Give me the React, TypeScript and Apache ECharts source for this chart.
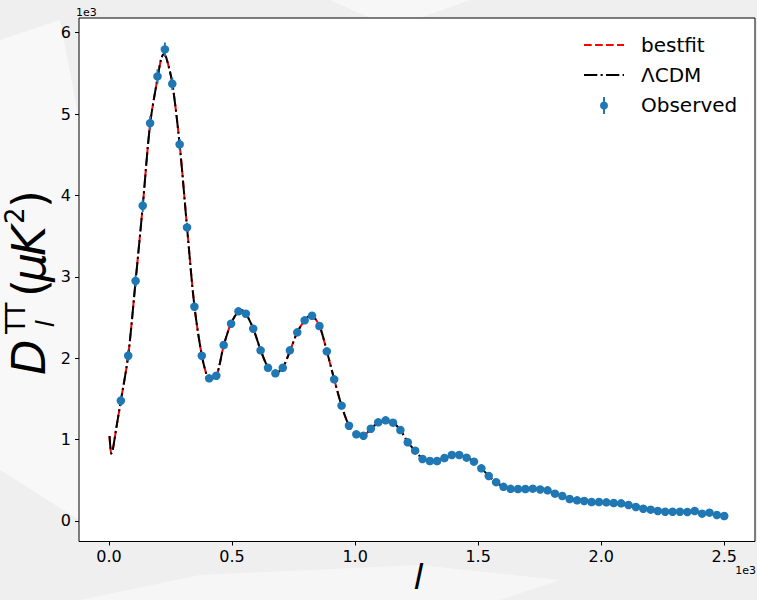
import React, { useEffect, useRef } from "react";
import * as echarts from "echarts";

// Observed binned spectrum (multipole l, D_l in muK^2, 1-sigma error)
const obsL = [48, 78, 108, 137, 167, 197, 227, 257, 287, 317, 347, 377, 407, 436, 466, 496, 526, 556, 586, 616,
  646, 676, 706, 735, 765, 795, 825, 855, 885, 915, 945, 975, 1005, 1034, 1064, 1094, 1124, 1154, 1184, 1214,
  1244, 1274, 1304, 1333, 1363, 1393, 1423, 1453, 1483, 1513, 1543, 1573, 1603, 1632, 1662, 1692, 1722, 1752,
  1782, 1812, 1842, 1872, 1902, 1931, 1961, 1991, 2021, 2051, 2081, 2111, 2141, 2171, 2201, 2230, 2260, 2290,
  2320, 2350, 2380, 2410, 2440, 2470, 2500];
const obsD = [1478, 2031, 2950, 3874, 4890, 5463, 5795, 5373, 4628, 3608, 2633, 2031, 1753, 1785, 2162, 2424,
  2576, 2547, 2363, 2097, 1883, 1814, 1883, 2097, 2318, 2466, 2522, 2396, 2085, 1741, 1417, 1171, 1065, 1048,
  1134, 1212, 1237, 1208, 1118, 967, 864, 762, 737, 737, 774, 811, 811, 778, 729, 647, 553, 477, 420, 395, 393,
  393, 397, 387, 377, 336, 307, 270, 254, 246, 233, 233, 229, 221, 217, 197, 172, 151, 139, 123, 114, 114, 114,
  111, 123, 90, 102, 74, 61];
const obsErr = [62, 67, 72, 78, 84, 88, 85, 78, 68, 58, 50, 44, 40, 38, 38, 40, 40, 38, 35, 32, 30, 29, 29, 30,
  31, 31, 30, 28, 25, 22, 19, 17, 15, 14, 14, 15, 15, 14, 13, 12, 11, 10, 10, 10, 10, 10, 10, 10, 9, 9, 8, 8, 8,
  8, 8, 8, 8, 8, 8, 8, 8, 8, 8, 8, 8, 8, 8, 8, 9, 9, 9, 9, 10, 10, 10, 11, 11, 12, 12, 13, 14, 15, 16];

// Theory curves
const theoryL = [2, 5, 9, 14, 20, 30, 48, 78, 108, 137, 167, 197, 212, 222, 232, 257, 287, 317, 347, 377, 400,
  415, 437, 466, 496, 526, 540, 556, 586, 616, 646, 670, 676, 706, 736, 765, 795, 815, 825, 855, 885, 915, 945,
  975, 1005, 1025, 1035, 1064, 1094, 1124, 1154, 1184, 1214, 1244, 1274, 1304, 1320, 1334, 1363, 1393, 1410,
  1423, 1453, 1483, 1513, 1543, 1573, 1603, 1633, 1662, 1692, 1722, 1752, 1782, 1812, 1842, 1872, 1902, 1932,
  1961, 1991, 2021, 2051, 2081, 2111, 2141, 2171, 2201, 2231, 2260, 2290, 2320, 2350, 2380, 2410, 2440, 2470, 2500];
const bestfitD = [1044, 925, 828, 860, 960, 1150, 1475, 2035, 2950, 3870, 4880, 5440, 5680, 5735, 5700, 5380,
  4625, 3610, 2640, 2035, 1770, 1745, 1785, 2155, 2430, 2578, 2590, 2550, 2365, 2100, 1885, 1815, 1815, 1885,
  2095, 2320, 2465, 2520, 2518, 2400, 2088, 1742, 1418, 1175, 1068, 1050, 1052, 1133, 1210, 1236, 1208, 1118,
  968, 862, 765, 735, 732, 738, 774, 808, 814, 811, 780, 728, 647, 555, 477, 420, 397, 393, 394, 395, 386, 374,
  338, 306, 272, 254, 245, 236, 232, 228, 220, 208, 190, 168, 150, 137, 124, 117, 114, 113, 110, 106, 98, 90, 80, 68];
const lcdmD = bestfitD.slice();

const xTicks = [0, 500, 1000, 1500, 2000, 2500];
const yTicks = [0, 1000, 2000, 3000, 4000, 5000, 6000];

const FONT = "DejaVu Sans";
const ELL = "\u{1D459}";

export default function App() {
  const ref = useRef<HTMLDivElement>(null);
  useEffect(() => {
    if (!ref.current) return;
    const chart = echarts.init(ref.current, null, { renderer: "svg" });
    const pts = obsL.map((l, i) => [l, obsD[i]]);
    const errs = obsL.map((l, i) => [l, obsD[i] - obsErr[i], obsD[i] + obsErr[i]]);
    const mid = (b: number, fs: number) => b - 0.35 * fs;
    const t = (text: string, x: number, y: number, fs: number, italic: boolean) => ({
      type: "text", x, y,
      style: { text, fontFamily: FONT, fontSize: fs, fontStyle: italic ? "italic" : "normal", fill: "#000", align: "left", verticalAlign: "middle" },
    });
    chart.setOption({
      animation: false,
      backgroundColor: "transparent",
      grid: { left: 79, top: 18, right: 2, bottom: 58.5, show: true, backgroundColor: "#ffffff", borderColor: "#000", borderWidth: 1 },
      xAxis: {
        type: "value", min: -122, max: 2625,
        axisLine: { show: false, onZero: false },
        splitLine: { show: false },
        axisTick: { show: true, length: 4, lineStyle: { color: "#000" }, customValues: xTicks },
        axisLabel: { customValues: xTicks, fontFamily: FONT, fontSize: 16, color: "#000", margin: 7, formatter: (v: number) => (v / 1000).toFixed(1) },
      },
      yAxis: {
        type: "value", min: -252, max: 6181,
        axisLine: { show: false, onZero: false },
        splitLine: { show: false },
        axisTick: { show: true, length: 4, lineStyle: { color: "#000" }, customValues: yTicks },
        axisLabel: { customValues: yTicks, fontFamily: FONT, fontSize: 16, color: "#000", margin: 8, formatter: (v: number) => String(Math.round(v / 1000)) },
      },
      series: [
        { name: "bestfit", type: "line", data: theoryL.map((l, i) => [l, bestfitD[i]]), smooth: 0.3, showSymbol: false, symbol: "none",
          lineStyle: { color: "#ff0000", width: 2, type: [7.7, 3.3] }, z: 2 },
        { name: "ΛCDM", type: "line", data: theoryL.map((l, i) => [l, lcdmD[i]]), smooth: 0.3, showSymbol: false, symbol: "none",
          lineStyle: { color: "#000000", width: 2, type: [13.3, 3.3, 2.1, 3.3] }, z: 3 },
        { name: "err", type: "custom", data: errs, encode: { x: 0, y: [1, 2] }, z: 4,
          renderItem: (params: any, api: any) => {
            const p1 = api.coord([api.value(0), api.value(1)]);
            const p2 = api.coord([api.value(0), api.value(2)]);
            return { type: "line", shape: { x1: p1[0], y1: p1[1], x2: p2[0], y2: p2[1] }, style: { stroke: "#1f77b4", lineWidth: 2 } };
          } },
        { name: "Observed", type: "scatter", data: pts, symbol: "circle", symbolSize: 8.5, itemStyle: { color: "#1f77b4", opacity: 1 }, z: 5 },
      ],
      graphic: [
        { type: "polygon", z: -10, shape: { points: [[0, 40], [60, 20], [79, 120], [79, 520], [0, 470]] }, style: { fill: "rgba(255,255,255,0.55)" } },
        { type: "polygon", z: -10, shape: { points: [[330, 0], [470, 0], [420, 18], [370, 18]] }, style: { fill: "rgba(255,255,255,0.5)" } },
        { type: "polygon", z: -10, shape: { points: [[80, 600], [200, 575], [420, 565], [560, 580], [500, 600]] }, style: { fill: "rgba(255,255,255,0.45)" } },
        { type: "text", x: 76, y: 12.5, style: { text: "1e3", fontFamily: FONT, fontSize: 11, fill: "#000", align: "left", verticalAlign: "middle" } },
        { type: "text", x: 756, y: 570.5, style: { text: "1e3", fontFamily: FONT, fontSize: 11, fill: "#000", align: "right", verticalAlign: "middle" } },
        { type: "text", x: 418.5, y: 576, style: { text: ELL, fontFamily: FONT, fontSize: 36, fill: "#000", align: "center", verticalAlign: "middle" } },
        {
          type: "group", x: 45, y: 375, rotation: Math.PI / 2,
          children: [
            t("D", 0, mid(0, 46), 46, true),
            t("TT", 41, mid(-20, 26), 26, false),
            t(ELL, 48, mid(9, 26), 26, false),
            t("(", 78, mid(0, 46), 46, false),
            t("μ", 93, mid(0, 46), 46, true),
            t("K", 119, mid(0, 46), 46, true),
            t("2", 151, mid(-21, 26), 26, false),
            t(")", 167, mid(0, 46), 46, false),
          ],
        },
        // legend
        { type: "line", shape: { x1: 584, y1: 45, x2: 624, y2: 45 }, style: { stroke: "#ff0000", lineWidth: 2, lineDash: [7.7, 3.3] } },
        { type: "line", shape: { x1: 584, y1: 75, x2: 624, y2: 75 }, style: { stroke: "#000", lineWidth: 2, lineDash: [13.3, 3.3, 2.1, 3.3] } },
        { type: "line", shape: { x1: 604, y1: 97, x2: 604, y2: 114 }, style: { stroke: "#1f77b4", lineWidth: 2 } },
        { type: "circle", shape: { cx: 604, cy: 105.5, r: 4 }, style: { fill: "#1f77b4" } },
        { type: "text", x: 641, y: 45, style: { text: "bestfit", fontFamily: FONT, fontSize: 20, fill: "#000", align: "left", verticalAlign: "middle" } },
        { type: "text", x: 641, y: 75, style: { text: "ΛCDM", fontFamily: FONT, fontSize: 20, fill: "#000", align: "left", verticalAlign: "middle" } },
        { type: "text", x: 641, y: 105, style: { text: "Observed", fontFamily: FONT, fontSize: 20, fill: "#000", align: "left", verticalAlign: "middle" } },
      ],
    });
    return () => chart.dispose();
  }, []);
  return (
    <div style={{ position: "fixed", left: 0, top: 0, width: 757, height: 600, background: "#efefef" }}>
      <div ref={ref} style={{ width: 757, height: 600 }} />
    </div>
  );
}
